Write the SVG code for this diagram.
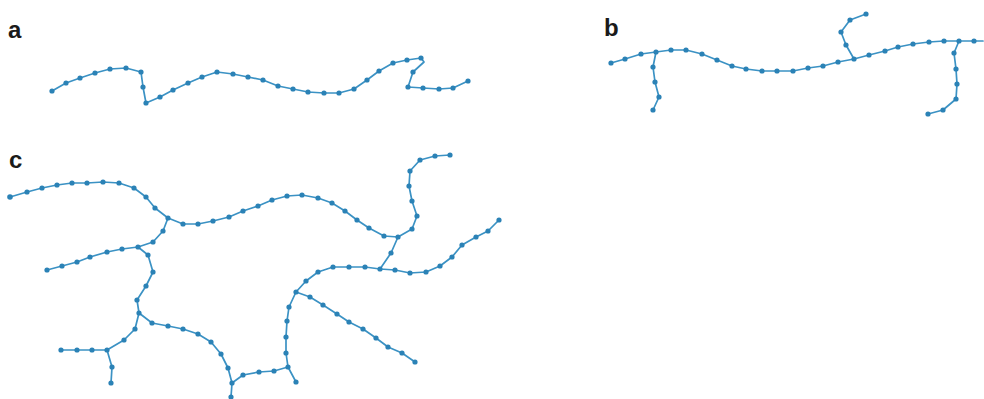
<svg xmlns="http://www.w3.org/2000/svg" width="984" height="399" viewBox="0 0 984 399">
<style>
.lbl{font-family:"Liberation Sans",Arial,sans-serif;font-weight:bold;font-size:24px;fill:#1a1a1a}
.ln{fill:none;stroke:#3b92c4;stroke-width:1.7;stroke-linejoin:round;stroke-linecap:round}
.d circle{fill:#2b82b6}
</style>
<rect width="984" height="399" fill="#ffffff"/>
<g id="labels">
<text class="lbl" x="8" y="38">a</text>
<text class="lbl" x="604" y="36">b</text>
<text class="lbl" x="9" y="168">c</text>
</g>
<g id="connectors">
<polyline class="ln" points="52,91 66,83 80,78 95,73 110,69 126,68 141,72 143,87 146,103 160,97 173,90 188,83 202,77 217,72 233,74 248,77 263,80 278,86 293,89 308,92 324,93 339,93 354,89 367,80 379,71 393,63 407,60 421,58 424,62 413,72 408,87 423,88 439,89 453,88 468,81"/>
<polyline class="ln" points="611,63 625,59 641,54 656,52 671,50 686,50 702,54 717,60 732,66 746,69 762,71 777,71 793,71 808,68 823,66 838,62 854,59 869,55 885,51 898,47 913,44 929,42 944,41 959,41 974,41 983,41"/>
<polyline class="ln" points="656,52 653,67 655,82 659,97 653,110"/>
<polyline class="ln" points="854,59 846,45 841,32 850,20 866,14"/>
<polyline class="ln" points="959,41 954,53 956,69 957,84 956,99 943,110 928,114"/>
<polyline class="ln" points="10,197 27,192 42,188 57,185 72,183 87,183 103,182 119,183 134,188 146,197 155,208 168,218 183,224 198,224 213,221 229,217 243,211 258,206 272,200 287,196 302,195 318,198 332,203 345,211 357,220 369,228 384,236 398,237 412,229 417,216 412,201 409,186 410,171 420,160 435,156 450,155"/>
<polyline class="ln" points="168,218 163,231 153,242 138,247 122,249 107,252 90,257 77,262 62,266 47,270"/>
<polyline class="ln" points="138,247 148,255 153,272 146,286 137,300 139,313 135,329 124,340 107,350 92,350 77,350 61,350"/>
<polyline class="ln" points="107,350 112,367 111,383"/>
<polyline class="ln" points="139,313 152,323 168,326 183,329 198,334 211,342 221,354 228,368 232,383 231,397"/>
<polyline class="ln" points="232,383 243,375 259,372 274,371 288,367 296,382"/>
<polyline class="ln" points="288,367 286,353 286,337 287,321 289,307 296,292 306,281 318,272 333,267 349,267 365,267 380,269 395,270 410,273 426,272 440,266 452,257 462,245 476,237 488,231 499,220"/>
<polyline class="ln" points="398,237 391,253 380,269"/>
<polyline class="ln" points="296,292 310,297 323,305 337,314 349,322 363,329 376,338 388,347 402,353 415,362"/>
</g>
<g id="chain-a" class="d">
<circle cx="52" cy="91" r="2.6"/><circle cx="66" cy="83" r="2.6"/><circle cx="80" cy="78" r="2.6"/><circle cx="95" cy="73" r="2.6"/><circle cx="110" cy="69" r="2.6"/><circle cx="126" cy="68" r="2.6"/><circle cx="141" cy="72" r="2.6"/><circle cx="143" cy="87" r="2.6"/><circle cx="146" cy="103" r="2.6"/><circle cx="160" cy="97" r="2.6"/><circle cx="173" cy="90" r="2.6"/><circle cx="188" cy="83" r="2.6"/><circle cx="202" cy="77" r="2.6"/><circle cx="217" cy="72" r="2.6"/><circle cx="233" cy="74" r="2.6"/><circle cx="248" cy="77" r="2.6"/><circle cx="263" cy="80" r="2.6"/><circle cx="278" cy="86" r="2.6"/><circle cx="293" cy="89" r="2.6"/><circle cx="308" cy="92" r="2.6"/><circle cx="324" cy="93" r="2.6"/><circle cx="339" cy="93" r="2.6"/><circle cx="354" cy="89" r="2.6"/><circle cx="367" cy="80" r="2.6"/><circle cx="379" cy="71" r="2.6"/><circle cx="393" cy="63" r="2.6"/><circle cx="407" cy="60" r="2.6"/><circle cx="421" cy="58" r="2.6"/><circle cx="413" cy="72" r="2.6"/><circle cx="408" cy="87" r="2.6"/><circle cx="423" cy="88" r="2.6"/><circle cx="439" cy="89" r="2.6"/><circle cx="453" cy="88" r="2.6"/><circle cx="468" cy="81" r="2.6"/>
</g>
<g id="chain-b" class="d">
<circle cx="611" cy="63" r="2.6"/><circle cx="625" cy="59" r="2.6"/><circle cx="641" cy="54" r="2.6"/><circle cx="656" cy="52" r="2.6"/><circle cx="671" cy="50" r="2.6"/><circle cx="686" cy="50" r="2.6"/><circle cx="702" cy="54" r="2.6"/><circle cx="717" cy="60" r="2.6"/><circle cx="732" cy="66" r="2.6"/><circle cx="746" cy="69" r="2.6"/><circle cx="762" cy="71" r="2.6"/><circle cx="777" cy="71" r="2.6"/><circle cx="793" cy="71" r="2.6"/><circle cx="808" cy="68" r="2.6"/><circle cx="823" cy="66" r="2.6"/><circle cx="838" cy="62" r="2.6"/><circle cx="854" cy="59" r="2.6"/><circle cx="869" cy="55" r="2.6"/><circle cx="885" cy="51" r="2.6"/><circle cx="898" cy="47" r="2.6"/><circle cx="913" cy="44" r="2.6"/><circle cx="929" cy="42" r="2.6"/><circle cx="944" cy="41" r="2.6"/><circle cx="959" cy="41" r="2.6"/><circle cx="974" cy="41" r="2.6"/>
<circle cx="653" cy="67" r="2.6"/><circle cx="655" cy="82" r="2.6"/><circle cx="659" cy="97" r="2.6"/><circle cx="653" cy="110" r="2.6"/>
<circle cx="846" cy="45" r="2.6"/><circle cx="841" cy="32" r="2.6"/><circle cx="850" cy="20" r="2.6"/><circle cx="866" cy="14" r="2.6"/>
<circle cx="954" cy="53" r="2.6"/><circle cx="956" cy="69" r="2.6"/><circle cx="957" cy="84" r="2.6"/><circle cx="956" cy="99" r="2.6"/><circle cx="943" cy="110" r="2.6"/><circle cx="928" cy="114" r="2.6"/>
</g>
<g id="chain-c" class="d">
<circle cx="10" cy="197" r="2.8"/><circle cx="27" cy="192" r="2.6"/><circle cx="42" cy="188" r="2.6"/><circle cx="57" cy="185" r="2.6"/><circle cx="72" cy="183" r="2.6"/><circle cx="87" cy="183" r="2.6"/><circle cx="103" cy="182" r="2.6"/><circle cx="119" cy="183" r="2.6"/><circle cx="134" cy="188" r="2.6"/><circle cx="146" cy="197" r="2.6"/><circle cx="155" cy="208" r="2.6"/><circle cx="168" cy="218" r="2.6"/><circle cx="183" cy="224" r="2.6"/><circle cx="198" cy="224" r="2.6"/><circle cx="213" cy="221" r="2.6"/><circle cx="229" cy="217" r="2.6"/><circle cx="243" cy="211" r="2.6"/><circle cx="258" cy="206" r="2.6"/><circle cx="272" cy="200" r="2.6"/><circle cx="287" cy="196" r="2.6"/><circle cx="302" cy="195" r="2.6"/><circle cx="318" cy="198" r="2.6"/><circle cx="332" cy="203" r="2.6"/><circle cx="345" cy="211" r="2.6"/><circle cx="357" cy="220" r="2.6"/><circle cx="369" cy="228" r="2.6"/><circle cx="384" cy="236" r="2.6"/><circle cx="398" cy="237" r="2.6"/><circle cx="412" cy="229" r="2.6"/><circle cx="417" cy="216" r="2.6"/><circle cx="412" cy="201" r="2.6"/><circle cx="409" cy="186" r="2.6"/><circle cx="410" cy="171" r="2.6"/><circle cx="420" cy="160" r="2.6"/><circle cx="435" cy="156" r="2.6"/><circle cx="450" cy="155" r="2.6"/>
<circle cx="163" cy="231" r="2.6"/><circle cx="153" cy="242" r="2.6"/><circle cx="138" cy="247" r="2.6"/><circle cx="122" cy="249" r="2.6"/><circle cx="107" cy="252" r="2.6"/><circle cx="90" cy="257" r="2.6"/><circle cx="77" cy="262" r="2.6"/><circle cx="62" cy="266" r="2.6"/><circle cx="47" cy="270" r="2.6"/>
<circle cx="148" cy="255" r="2.6"/><circle cx="153" cy="272" r="2.6"/><circle cx="146" cy="286" r="2.6"/><circle cx="137" cy="300" r="2.6"/><circle cx="139" cy="313" r="2.6"/><circle cx="135" cy="329" r="2.6"/><circle cx="124" cy="340" r="2.6"/><circle cx="107" cy="350" r="2.6"/><circle cx="92" cy="350" r="2.6"/><circle cx="77" cy="350" r="2.6"/><circle cx="61" cy="350" r="2.6"/>
<circle cx="112" cy="367" r="2.6"/><circle cx="111" cy="383" r="2.6"/>
<circle cx="152" cy="323" r="2.6"/><circle cx="168" cy="326" r="2.6"/><circle cx="183" cy="329" r="2.6"/><circle cx="198" cy="334" r="2.6"/><circle cx="211" cy="342" r="2.6"/><circle cx="221" cy="354" r="2.6"/><circle cx="228" cy="368" r="2.6"/><circle cx="232" cy="383" r="2.6"/><circle cx="231" cy="397" r="2.6"/>
<circle cx="243" cy="375" r="2.6"/><circle cx="259" cy="372" r="2.6"/><circle cx="274" cy="371" r="2.6"/><circle cx="288" cy="367" r="2.6"/><circle cx="296" cy="382" r="2.6"/>
<circle cx="286" cy="353" r="2.6"/><circle cx="286" cy="337" r="2.6"/><circle cx="287" cy="321" r="2.6"/><circle cx="289" cy="307" r="2.6"/><circle cx="296" cy="292" r="2.6"/><circle cx="306" cy="281" r="2.6"/><circle cx="318" cy="272" r="2.6"/><circle cx="333" cy="267" r="2.6"/><circle cx="349" cy="267" r="2.6"/><circle cx="365" cy="267" r="2.6"/><circle cx="380" cy="269" r="2.6"/><circle cx="395" cy="270" r="2.6"/><circle cx="410" cy="273" r="2.6"/><circle cx="426" cy="272" r="2.6"/><circle cx="440" cy="266" r="2.6"/><circle cx="452" cy="257" r="2.6"/><circle cx="462" cy="245" r="2.6"/><circle cx="476" cy="237" r="2.6"/><circle cx="488" cy="231" r="2.6"/><circle cx="499" cy="220" r="2.6"/>
<circle cx="391" cy="253" r="2.6"/>
<circle cx="310" cy="297" r="2.6"/><circle cx="323" cy="305" r="2.6"/><circle cx="337" cy="314" r="2.6"/><circle cx="349" cy="322" r="2.6"/><circle cx="363" cy="329" r="2.6"/><circle cx="376" cy="338" r="2.6"/><circle cx="388" cy="347" r="2.6"/><circle cx="402" cy="353" r="2.6"/><circle cx="415" cy="362" r="2.6"/>
</g>
</svg>
